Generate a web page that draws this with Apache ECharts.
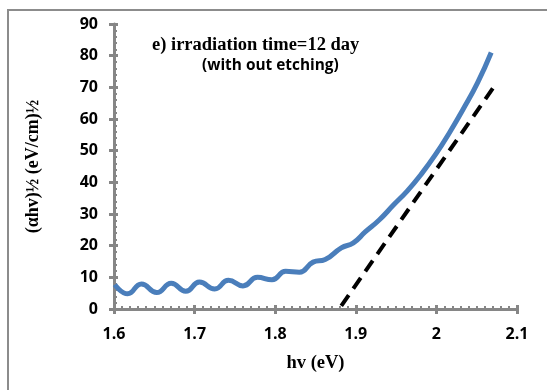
<!DOCTYPE html>
<html>
<head>
<meta charset="utf-8">
<script src="https://cdn.jsdelivr.net/npm/echarts@6/dist/echarts.min.js"></script>
<style>
html,body{margin:0;padding:0;background:#fff;}
#chart{width:547px;height:390px;}
</style>
</head>
<body>
<div id="chart"></div>
<script>
// measured curve: photon energy (eV) and (alpha h nu)^1/2
var hv = [1.601, 1.617, 1.634, 1.653, 1.671, 1.689, 1.706, 1.725, 1.742, 1.760, 1.778, 1.796, 1.813, 1.830, 1.847, 1.862, 1.882, 1.897, 1.912, 1.929, 1.947, 1.964, 1.981, 1.999, 2.016, 2.033, 2.051, 2.068];
var ahv = [7.7, 4.8, 7.9, 5.2, 8.1, 5.6, 8.5, 6.3, 9.1, 7.3, 10.0, 9.2, 11.9, 11.6, 14.8, 15.6, 19.3, 20.9, 24.4, 28.1, 32.9, 37.3, 42.5, 48.8, 55.6, 63.0, 71.4, 81.0];
// linear extrapolation (dashed)
var fitX = [1.882, 2.075];
var fitY = [1.0, 71.5];
var xTicks = [1.6, 1.7, 1.8, 1.9, 2.0, 2.1];
var yTicks = [0, 10, 20, 30, 40, 50, 60, 70, 80, 90];

var curve = hv.map(function (x, i) { return [x, ahv[i]]; });
var fit = fitX.map(function (x, i) { return [x, fitY[i]]; });

var axisGray = '#868686';
var sans = '"Open Sans", "Liberation Sans", sans-serif';
var chart = echarts.init(document.getElementById('chart'));
chart.setOption({
  backgroundColor: '#fff',
  animation: false,
  grid: { left: 114, top: 24, right: 30, bottom: 81, containLabel: false },
  xAxis: [{
    type: 'value', min: xTicks[0], max: xTicks[xTicks.length - 1], interval: 0.1,
    name: 'hv (eV)', nameLocation: 'middle', nameGap: 45,
    nameTextStyle: { fontFamily: 'Liberation Serif', fontWeight: 'bold', fontSize: 18.5, color: '#000' },
    axisLine: { show: true, lineStyle: { color: axisGray, width: 3 } },
    axisTick: { show: true, length: 5, lineStyle: { color: axisGray, width: 3 } },
    axisLabel: { margin: 17, fontFamily: sans, fontWeight: 'bold', fontSize: 16, color: '#000',
      formatter: function (v) { return String(+v.toFixed(1)); } },
    splitLine: { show: false }
  }, {
    type: 'value', min: xTicks[0], max: xTicks[xTicks.length - 1], interval: 0.1, position: 'bottom',
    axisLine: { show: false },
    axisTick: { show: true, inside: true, length: 4, lineStyle: { color: axisGray, width: 3 } },
    minorTick: { show: true, splitNumber: 10, length: 3, lineStyle: { color: axisGray, width: 2 } },
    axisLabel: { show: false },
    splitLine: { show: false }
  }],
  yAxis: [{
    type: 'value', min: yTicks[0], max: yTicks[yTicks.length - 1], interval: 10,
    name: '(αhv)½ (eV/cm)½', nameLocation: 'middle', nameGap: 72, nameRotate: 90,
    nameTextStyle: { fontFamily: 'Liberation Serif', fontWeight: 'bold', fontSize: 18, color: '#000' },
    axisLine: { show: true, lineStyle: { color: axisGray, width: 3 } },
    axisTick: { show: true, length: 5, lineStyle: { color: axisGray, width: 3 } },
    axisLabel: { margin: 16, fontFamily: sans, fontWeight: 'bold', fontSize: 16, color: '#000' },
    splitLine: { show: false }
  }, {
    type: 'value', min: yTicks[0], max: yTicks[yTicks.length - 1], interval: 10, position: 'left',
    axisLine: { show: false },
    axisTick: { show: true, inside: true, length: 4, lineStyle: { color: axisGray, width: 3 } },
    minorTick: { show: true, splitNumber: 5, length: 3, lineStyle: { color: axisGray, width: 2 } },
    axisLabel: { show: false },
    splitLine: { show: false }
  }],
  graphic: [
    { type: 'rect', shape: { x: 8, y: 10, width: 600, height: 500 }, style: { fill: 'none', stroke: '#8c8c8c', lineWidth: 2 }, silent: true, z: -1 },
    { type: 'text', left: 152, top: 36, style: { text: 'e) irradiation time=12 day', font: 'bold 18.5px "Liberation Serif"', fill: '#000' } },
    { type: 'text', left: 202, top: 58, style: { text: '(with out etching)', font: 'bold 15.4px "Open Sans"', fill: '#000' } }
  ],
  series: [{
    type: 'line', data: curve, smooth: 0.5, showSymbol: false, symbol: 'none',
    lineStyle: { color: '#4a7ebb', width: 5 }, z: 3
  }, {
    type: 'line', data: fit, showSymbol: false, symbol: 'none',
    lineStyle: { color: '#000', width: 4, type: [13, 8] }, z: 2
  }]
});
</script>
</body>
</html>
